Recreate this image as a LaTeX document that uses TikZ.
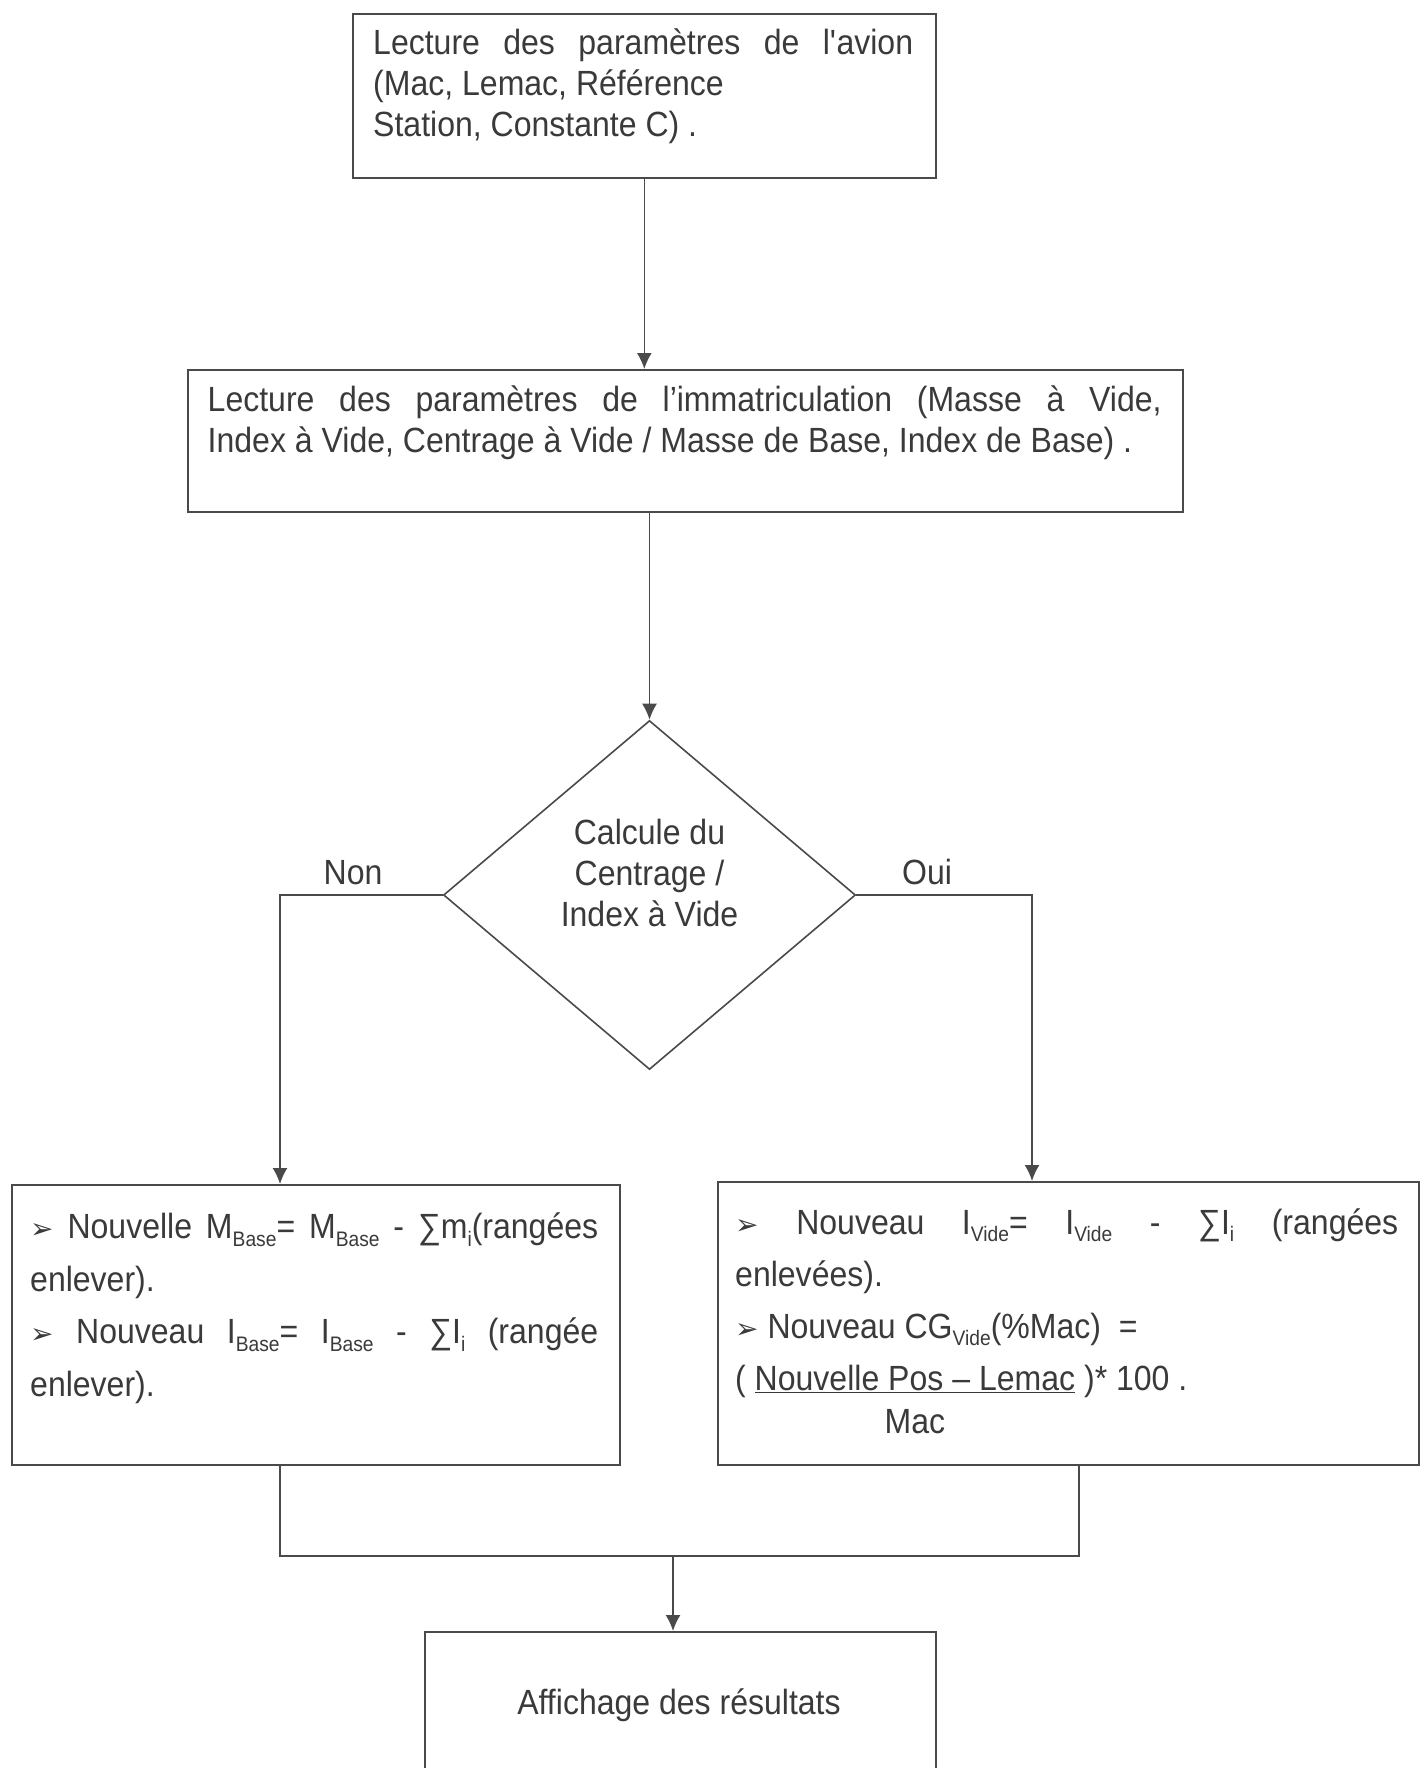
\documentclass[tikz,border=0pt]{standalone}
\usepackage{fontspec}
\setmainfont[FakeStretch=0.915]{Liberation Sans}
\newfontfamily\dingfont{DejaVu Sans}
\usetikzlibrary{shapes.geometric,arrows.meta}
\definecolor{ink}{HTML}{3A3A3A}
\definecolor{rule}{HTML}{4A4A4A}
% small lowered index used in the formulas
\newcommand\lowsub[1]{\raisebox{-0.22em}{\fontsize{21}{21}\selectfont #1}}
% bullet arrowhead in front of each formula
\newcommand\pointer{{\dingfont\fontsize{28}{28}\selectfont ➢}}
\newlength\numerw

\begin{document}
\settowidth{\numerw}{\fontsize{35}{41}\selectfont Nouvelle Pos – Lemac}
\begin{tikzpicture}[x=1pt,y=-1pt,
  frame/.style={draw=rule,line width=1.6pt,inner sep=0pt,anchor=north west},
  body/.style={inner sep=0pt,anchor=base west,align=left,text=ink,
               font=\fontsize{35}{41}\selectfont},
  link/.style={draw=rule,line width=1.6pt},
  flow/.style={link,-{Latex[length=16pt,width=15pt]}},
]
\fill[white] (0,0) rectangle (1423,1768);
\clip (0,0) rectangle (1423,1768);

% boxes
\node[frame,minimum width=583pt,minimum height=163.5pt] (avion) at (352,13.5) {};
\node[frame,minimum width=995pt,minimum height=142pt] (immat) at (187,369) {};
\node[draw=rule,line width=1.6pt,diamond,inner sep=0pt,
      minimum width=412pt,minimum height=349pt] (calc) at (649.5,895) {};
\node[frame,minimum width=608pt,minimum height=280pt] (base) at (11,1184) {};
\node[frame,minimum width=701pt,minimum height=283pt] (vide) at (717,1181) {};
\node[frame,minimum width=511pt,minimum height=220pt] (affich) at (424,1631) {};

% texts (each anchored on the baseline of its last line)
\node[body] (avionT) at (373,137) {%
  \makebox[540pt][s]{Lecture des paramètres de l\textquotesingle avion}\\
  (Mac, Lemac, Référence\\
  Station, Constante C) .};

\node[body] (immatT) at (207.5,452) {%
  \makebox[954pt][s]{Lecture des paramètres de l’immatriculation (Masse à Vide,}\\
  Index à Vide, Centrage à Vide / Masse de Base, Index de Base) .};

\node[body,anchor=base,align=center] (calcT) at (649.5,926) {%
  Calcule du\\Centrage /\\Index à Vide};

\node[body,font=\fontsize{35}{52.5}\selectfont] (baseT) at (30,1396) {%
  \makebox[568pt][s]{\pointer\ Nouvelle M\lowsub{Base}= M\lowsub{Base} - ∑m\lowsub{i}(rangées}\\
  enlever).\\
  \makebox[568pt][s]{\pointer\ Nouveau I\lowsub{Base}= I\lowsub{Base} - ∑I\lowsub{i} (rangée}\\
  enlever).};

\node[body,font=\fontsize{35}{52}\selectfont] (videT) at (735,1433) {%
  \makebox[663pt][s]{\pointer\ Nouveau I\lowsub{Vide}= I\lowsub{Vide} - ∑I\lowsub{i} (rangées}\\
  enlevées).\\
  \pointer\ Nouveau CG\lowsub{Vide}(\%Mac) ~=\\
  ( \underline{Nouvelle Pos – Lemac} )* 100 .\\[-9pt]
  \phantom{( }\makebox[\numerw][c]{Mac}};

\node[body,anchor=base] (affichT) at (679,1714) {Affichage des résultats};

% branch labels
\node[body,anchor=base] (non) at (353,884) {Non};
\node[body,anchor=base] (oui) at (927,884) {Oui};

% connectors
\coordinate (nonx) at (280,893);
\coordinate (ouix) at (1032,893);
\coordinate (joinl) at (280,1556);
\coordinate (joinr) at (1079,1556);
\coordinate (joinm) at (673,1556);

\draw[flow] (avion.south) -- (avion.south |- immat.north);
\draw[flow] (calc.north |- immat.south) -- (calc.north);
\draw[flow] (calc.west) -| (nonx |- base.north);
\draw[flow] (calc.east) -| (ouix |- vide.north);
\draw[link] (joinl |- base.south) -- (joinl) -- (joinr) -- (joinr |- vide.south);
\draw[flow] (joinm) -- (joinm |- affich.north);
\end{tikzpicture}
\end{document}
